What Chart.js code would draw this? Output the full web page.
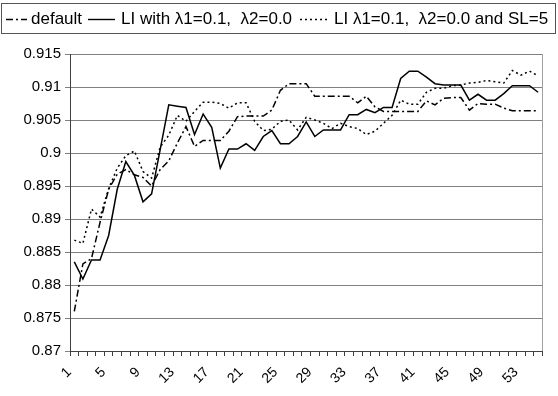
<!DOCTYPE html>
<html>
<head>
<meta charset="utf-8">
<script src="https://cdn.jsdelivr.net/npm/chart.js@4/dist/chart.umd.min.js"></script>
<style>
  html, body { margin: 0; padding: 0; background: #fff; }
  #wrap { width: 558px; height: 396px; }
</style>
</head>
<body>
<div id="wrap"><canvas id="c" width="558" height="396"></canvas></div>
<script>
// Iteration index on the category axis
const categories = [
  1, 2, 3, 4, 5, 6, 7, 8, 9, 10, 11, 12, 13, 14, 15, 16, 17, 18, 19, 20,
  21, 22, 23, 24, 25, 26, 27, 28, 29, 30, 31, 32, 33, 34, 35, 36, 37, 38, 39, 40,
  41, 42, 43, 44, 45, 46, 47, 48, 49, 50, 51, 52, 53, 54, 55
];

// Accuracy per iteration for each configuration
const defaultValues = [
  0.8760, 0.8832, 0.8840, 0.8895, 0.8945, 0.8968, 0.8975, 0.8967, 0.8963, 0.8950,
  0.8975, 0.8988, 0.9015, 0.9040, 0.9010, 0.9019, 0.9019, 0.9019, 0.9033, 0.9055,
  0.9056, 0.9056, 0.9056, 0.9065, 0.9095, 0.9105, 0.9105, 0.9105, 0.9086, 0.9086,
  0.9086, 0.9086, 0.9086, 0.9076, 0.9086, 0.9070, 0.9063, 0.9063, 0.9063, 0.9063,
  0.9063, 0.9079, 0.9073, 0.9083, 0.9084, 0.9084, 0.9065, 0.9075, 0.9074, 0.9074,
  0.9068, 0.9064, 0.9064, 0.9064, 0.9064
];

const liValues = [
  0.8835, 0.8809, 0.8838, 0.8838, 0.8875, 0.8945, 0.8987, 0.8966, 0.8926, 0.8938,
  0.9005, 0.9073, 0.9071, 0.9069, 0.9028, 0.9059, 0.9039, 0.8977, 0.9006, 0.9006,
  0.9014, 0.9004, 0.9025, 0.9034, 0.9014, 0.9014, 0.9025, 0.9047, 0.9025, 0.9035,
  0.9035, 0.9035, 0.9058, 0.9058, 0.9066, 0.9061, 0.9069, 0.9069, 0.9113, 0.9124,
  0.9124, 0.9115, 0.9105, 0.9103, 0.9103, 0.9103, 0.9080, 0.9089, 0.9080, 0.9080,
  0.9090, 0.9102, 0.9102, 0.9102, 0.9092
];

const liSlValues = [
  0.8868, 0.8863, 0.8915, 0.8903, 0.8946, 0.8977, 0.8996, 0.9003, 0.8972, 0.8962,
  0.9009, 0.9027, 0.9057, 0.9048, 0.9063, 0.9077, 0.9077, 0.9075, 0.9068, 0.9076,
  0.9076, 0.9048, 0.9034, 0.9036, 0.9048, 0.9050, 0.9035, 0.9054, 0.9050, 0.9045,
  0.9037, 0.9045, 0.9040, 0.9037, 0.9028, 0.9033, 0.9045, 0.9057, 0.9080, 0.9074,
  0.9074, 0.9092, 0.9098, 0.9098, 0.9102, 0.9103, 0.9106, 0.9107, 0.9110, 0.9108,
  0.9106, 0.9125, 0.9118, 0.9124, 0.9117
];

const seriesNames = ['default', 'LI with \u03bb1=0.1,  \u03bb2=0.0', 'LI \u03bb1=0.1,  \u03bb2=0.0 and SL=5'];
const seriesDashes = [[7, 3, 2, 3], [], [2, 3]];

const yMin = 0.87, yMax = 0.915, yStep = 0.005;
const FONT = '"Liberation Sans", Arial, sans-serif';

// Boxed legend across the top: a line sample in each dash style, then its name
const legendSampleX = [6, 88, 300];
const legendSampleLen = [21, 27, 30];
const legendTextX = [31, 121, 334];

const boxedLegend = {
  id: 'boxedLegend',
  afterDraw(chart) {
    const ctx = chart.ctx;
    ctx.save();
    ctx.strokeStyle = '#555';
    ctx.lineWidth = 1;
    ctx.setLineDash([]);
    ctx.strokeRect(1.5, 3.5, 554, 30);
    ctx.font = '17px ' + FONT;
    ctx.textBaseline = 'middle';
    ctx.fillStyle = '#000';
    const y = 19;
    chart.data.datasets.forEach((ds, i) => {
      ctx.beginPath();
      ctx.setLineDash(ds.borderDash || []);
      ctx.lineWidth = 1.4;
      ctx.strokeStyle = '#000';
      ctx.moveTo(legendSampleX[i], y + 0.5);
      ctx.lineTo(legendSampleX[i] + legendSampleLen[i], y + 0.5);
      ctx.stroke();
      ctx.setLineDash([]);
      ctx.fillText(ds.label, legendTextX[i], y);
    });
    ctx.restore();
  }
};

// Light frame on the right edge of the plot area
const plotFrame = {
  id: 'plotFrame',
  beforeDatasetsDraw(chart) {
    const { ctx, chartArea } = chart;
    ctx.save();
    ctx.strokeStyle = '#a0a0a0';
    ctx.lineWidth = 1;
    ctx.beginPath();
    ctx.moveTo(Math.round(chartArea.right) + 0.5, chartArea.top);
    ctx.lineTo(Math.round(chartArea.right) + 0.5, chartArea.bottom);
    ctx.stroke();
    ctx.restore();
  }
};

const seriesValues = [defaultValues, liValues, liSlValues];

new Chart(document.getElementById('c'), {
  type: 'line',
  data: {
    labels: categories,
    datasets: seriesValues.map((vals, i) => ({
      label: seriesNames[i],
      data: vals,
      borderColor: '#000',
      borderWidth: 1.5,
      borderDash: seriesDashes[i],
      pointRadius: 0,
      tension: 0,
      fill: false
    }))
  },
  options: {
    responsive: false,
    animation: false,
    devicePixelRatio: 1,
    layout: { padding: { left: 0, top: 54, right: 2, bottom: 0 } },
    plugins: {
      legend: { display: false },
      tooltip: { enabled: false }
    },
    scales: {
      x: {
        type: 'category',
        offset: true,
        grid: {
          offset: true,
          drawOnChartArea: false,
          drawTicks: true,
          tickLength: 5,
          color: '#404040'
        },
        border: { color: '#404040', width: 1 },
        ticks: {
          autoSkip: false,
          minRotation: 45,
          maxRotation: 45,
          padding: 8,
          labelOffset: -5,
          color: '#000',
          font: { family: FONT, size: 14 },
          callback: function (value, index) {
            return index % 4 === 0 ? String(categories[index]) : '';
          }
        },
        afterFit(scale) { scale.height = 45; }
      },
      y: {
        min: yMin,
        max: yMax,
        grid: {
          color: '#808080',
          lineWidth: 1,
          drawTicks: true,
          tickLength: 5
        },
        border: { color: '#404040', width: 1 },
        ticks: {
          stepSize: yStep,
          padding: 4,
          color: '#000',
          font: { family: FONT, size: 15 },
          callback: function (value) {
            return String(Number(value.toFixed(3)));
          }
        },
        afterFit(scale) { scale.width = 70; }
      }
    }
  },
  plugins: [boxedLegend, plotFrame]
});
</script>
</body>
</html>
